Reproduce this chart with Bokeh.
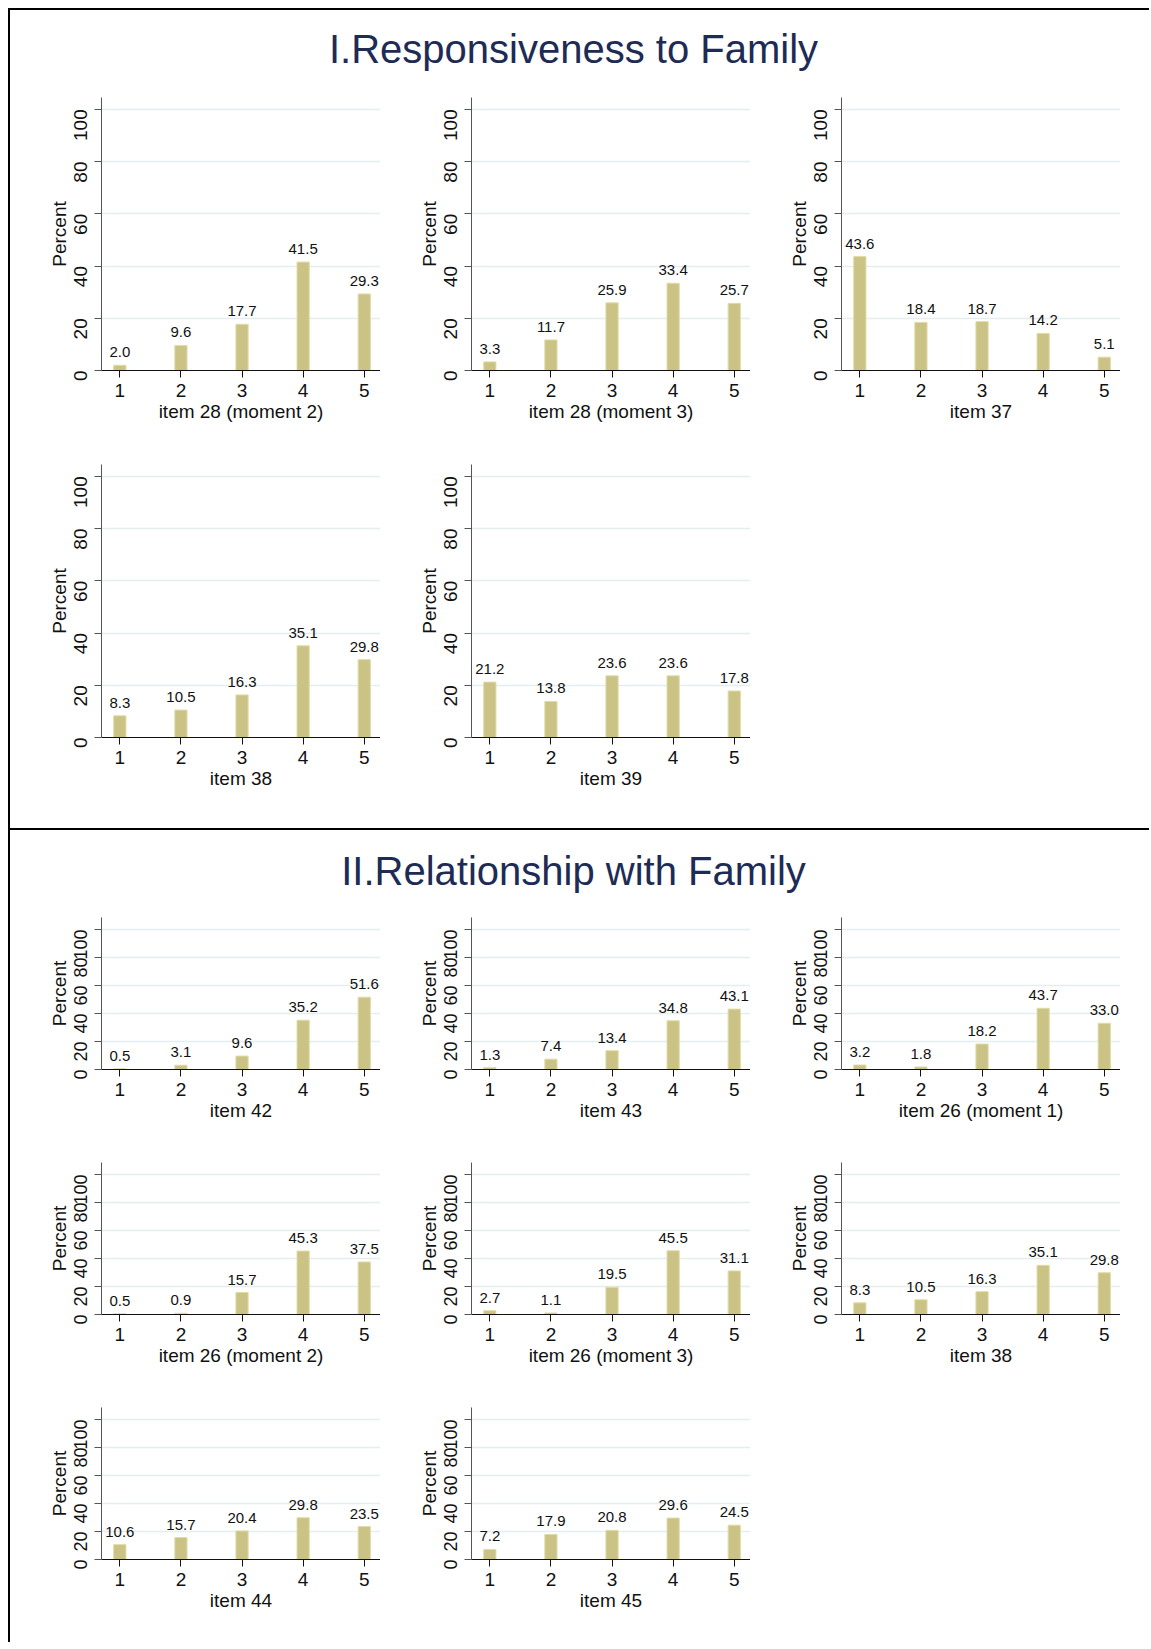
import math
from bokeh.plotting import figure
from bokeh.models import ColumnDataSource, FixedTicker, LabelSet, Div, Range1d
from bokeh.core.properties import value
from bokeh.layouts import column, row
from bokeh.embed import file_html
from bokeh.resources import INLINE

# ---------------- data ----------------
categories = [1, 2, 3, 4, 5]
y_ticks = [0, 20, 40, 60, 80, 100]

sec1_title = "I.Responsiveness to Family"
sec1_labels = ["item 28 (moment 2)", "item 28 (moment 3)", "item 37",
               "item 38", "item 39"]
sec1_values = [
    [2.0, 9.6, 17.7, 41.5, 29.3],
    [3.3, 11.7, 25.9, 33.4, 25.7],
    [43.6, 18.4, 18.7, 14.2, 5.1],
    [8.3, 10.5, 16.3, 35.1, 29.8],
    [21.2, 13.8, 23.6, 23.6, 17.8],
]

sec2_title = "II.Relationship with Family"
sec2_labels = ["item 42", "item 43", "item 26 (moment 1)",
               "item 26 (moment 2)", "item 26 (moment 3)", "item 38",
               "item 44", "item 45"]
sec2_values = [
    [0.5, 3.1, 9.6, 35.2, 51.6],
    [1.3, 7.4, 13.4, 34.8, 43.1],
    [3.2, 1.8, 18.2, 43.7, 33.0],
    [0.5, 0.9, 15.7, 45.3, 37.5],
    [2.7, 1.1, 19.5, 45.5, 31.1],
    [8.3, 10.5, 16.3, 35.1, 29.8],
    [10.6, 15.7, 20.4, 29.8, 23.5],
    [7.2, 17.9, 20.8, 29.6, 24.5],
]

# ---------------- style ----------------
FONT = "Liberation Sans"
BAR_FILL = "#cbc385"
BAR_LINE = "#e0dca6"
GRID = "#e4eef1"
NAVY = "#1d2b55"
PAGE_W = 1141
X_END = 5.266


def panel(values, xlabel, width, height, ml, mr, mt, mb, ymax, ytick_size):
    p = figure(width=width, height=height, output_backend="svg",
               toolbar_location=None, x_range=Range1d(0.7, X_END),
               y_range=Range1d(0, ymax), min_border_left=ml,
               min_border_right=mr, min_border_top=mt, min_border_bottom=mb)
    src = ColumnDataSource(dict(x=categories, top=values,
                                lab=["%.1f" % v for v in values]))
    p.vbar(x="x", top="top", bottom=0, width=0.2, source=src,
           fill_color=BAR_FILL, line_color=BAR_LINE, line_width=1)
    p.add_layout(LabelSet(x="x", y="top", text="lab", source=src,
                          text_align="center", text_baseline="bottom",
                          y_offset=8, text_font=value(FONT),
                          text_font_size=value("15px"),
                          text_color="#111111"))
    p.outline_line_color = None
    p.background_fill_color = "white"
    p.border_fill_color = "white"
    p.xgrid.visible = False
    p.ygrid.ticker = FixedTicker(ticks=[20, 40, 60, 80, 100])
    p.ygrid.grid_line_color = GRID
    p.ygrid.grid_line_width = 1.5

    xa = p.xaxis[0]
    xa.ticker = FixedTicker(ticks=categories)
    xa.axis_label = xlabel
    xa.axis_label_text_font = FONT
    xa.axis_label_text_font_size = "19px"
    xa.axis_label_text_font_style = "normal"
    xa.axis_label_text_color = "#111111"
    xa.axis_label_standoff = 1
    xa.major_label_text_font = FONT
    xa.major_label_text_font_size = "19px"
    xa.major_label_text_color = "#111111"
    xa.major_label_standoff = 6
    xa.major_tick_out = 7
    xa.major_tick_in = 0
    xa.minor_tick_out = 0
    xa.minor_tick_in = 0
    xa.axis_line_color = "#111111"
    xa.major_tick_line_color = "#111111"

    ya = p.yaxis[0]
    ya.ticker = FixedTicker(ticks=y_ticks)
    ya.axis_label = "Percent"
    ya.axis_label_text_font = FONT
    ya.axis_label_text_font_size = "19px"
    ya.axis_label_text_font_style = "normal"
    ya.axis_label_text_color = "#111111"
    ya.axis_label_standoff = -5
    ya.major_label_text_font = FONT
    ya.major_label_text_font_size = ytick_size
    ya.major_label_text_color = "#111111"
    ya.major_label_orientation = math.pi / 2
    ya.major_label_standoff = 14
    ya.major_tick_out = 7
    ya.major_tick_in = 0
    ya.minor_tick_out = 0
    ya.minor_tick_in = 0
    ya.axis_line_color = "#555555"
    ya.major_tick_line_color = "#555555"
    return p


def header(text, width, height, line_height):
    return Div(text=text, width=width, height=height, margin=0,
               styles={"font-family": FONT, "font-size": "40px",
                       "color": NAVY, "text-align": "center",
                       "line-height": "%dpx" % line_height,
                       "padding-right": "6px", "box-sizing": "border-box",
                       "white-space": "nowrap"})


def hline(width):
    return Div(width=width, height=2, margin=0,
               styles={"background-color": "black"})


def vline(height):
    return Div(width=2, height=height, margin=0,
               styles={"background-color": "black"})


def spacer(width, height):
    return Div(width=width, height=height, margin=0)


W = 370
CONTENT_W = 1133

# ---------- section I ----------
s1 = [panel(v, l, W, 363 if i < 3 else 367, 91, 0, 23 if i < 3 else 27, 67,
            104.5, "19px")
      for i, (v, l) in enumerate(zip(sec1_values, sec1_labels))]
h1 = header(sec1_title, CONTENT_W, 64, 78)
sec1_body = column(h1, row(*s1[0:3]), row(*s1[3:5]), spacer(CONTENT_W, 24))
sec1 = row(vline(818), sec1_body)

# ---------- section II ----------
heights2 = [245, 245, 245, 245, 245, 245, 230, 230]
s2 = [panel(v, l, W, heights2[i], 91, 0, 14, heights2[i] - 14 - 152, 108.5,
            "18px")
      for i, (v, l) in enumerate(zip(sec2_values, sec2_labels))]
h2 = header(sec2_title, CONTENT_W, 73, 82)
sec2_body = column(h2, row(*s2[0:3]), row(*s2[3:6]), row(*s2[6:8]))
sec2 = row(vline(812), sec2_body)

page = column(hline(PAGE_W), sec1, hline(PAGE_W), sec2, margin=(8, 0, 0, 8))

open("out.html", "w").write(file_html(page, INLINE))
